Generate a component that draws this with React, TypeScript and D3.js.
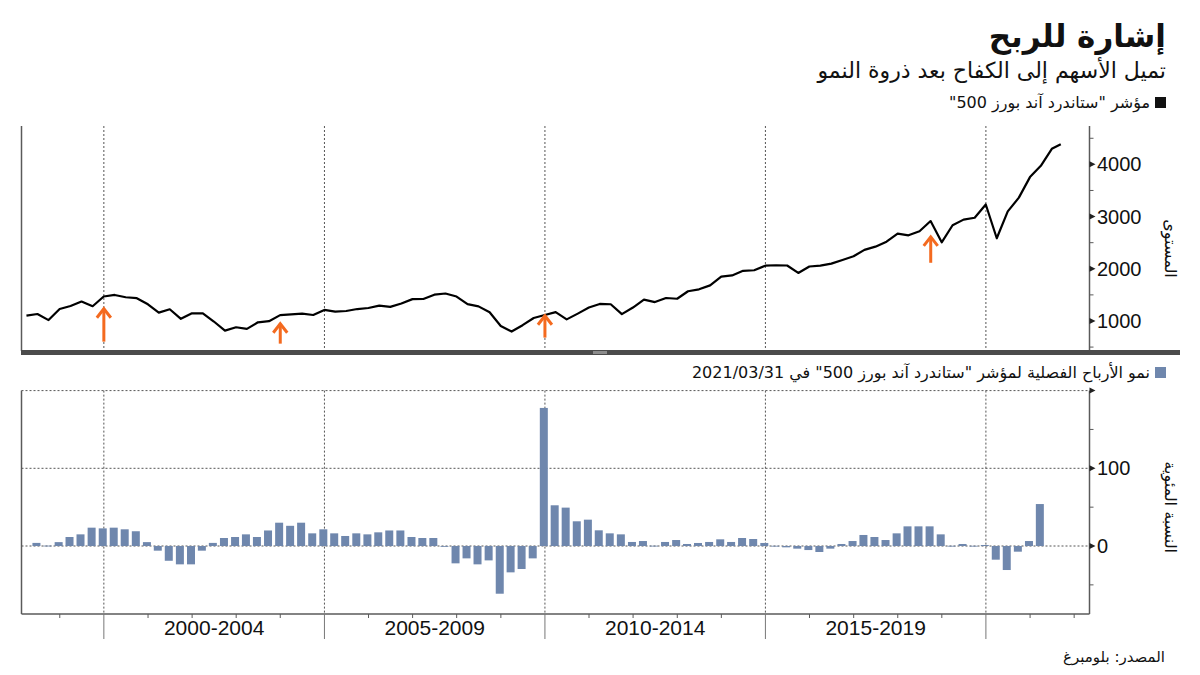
import React from "react";
import * as d3 from "d3";

// ---------- DATA ----------
// S&P 500 quarter-end level, first value = Q1 1998
const spxStartYear = 1998;
const spxStartQuarter = 1;
const spxValues = [
  1101.75, 1133.84, 1017.01, 1229.23,
  1286.37, 1372.71, 1282.71, 1469.25,
  1498.58, 1454.6, 1436.51, 1320.28,
  1160.33, 1224.42, 1040.94, 1148.08,
  1147.39, 989.82, 815.28, 879.82,
  848.18, 974.5, 995.97, 1111.92,
  1126.21, 1140.84, 1114.58, 1211.92,
  1180.59, 1191.33, 1228.81, 1248.29,
  1294.83, 1270.2, 1335.85, 1418.3,
  1420.86, 1503.35, 1526.75, 1468.36,
  1322.7, 1280.0, 1166.36, 903.25,
  797.87, 919.32, 1057.08, 1115.1,
  1169.43, 1030.71, 1141.2, 1257.64,
  1325.83, 1320.64, 1131.42, 1257.6,
  1408.47, 1362.16, 1440.67, 1426.19,
  1569.19, 1606.28, 1681.55, 1848.36,
  1872.34, 1960.23, 1972.29, 2058.9,
  2067.89, 2063.11, 1920.03, 2043.94,
  2059.74, 2098.86, 2168.27, 2238.83,
  2362.72, 2423.41, 2519.36, 2673.61,
  2640.87, 2718.37, 2913.98, 2506.85,
  2834.4, 2941.76, 2976.74, 3230.78,
  2584.59, 3100.29, 3363.0, 3756.07,
  3972.89, 4297.5,
];
const spxLastDate = "2021-09-12";
const spxLastValue = 4385;

// Quarterly EPS growth (%), first value = Q2 1998, last = Q1 2021
const growthStartYear = 1998;
const growthStartQuarter = 2;
const growthValues = [
  4, 0.5, 5, 11.6, 15, 23.6, 22.7, 23.6, 21.5, 19,
  5, -6, -19, -23.6, -23.6, -6, 4, 10.3, 11.6, 15,
  11.6, 20, 30, 26, 30, 16.3, 21.5, 16.3, 12.9, 16.3,
  15, 17.6, 20, 20, 11.6, 10.3, 10.3, -0.5, -22.3, -15.9,
  -23.6, -18.5, -61.4, -33.9, -29.6, -15.9, 177.7, 52.4, 49.4, 31.8,
  33.9, 20.2, 16.3, 15, 5.2, 6.4, 0.4, 5.2, 7.7, 2.6,
  3.9, 5.2, 8.6, 5.2, 10.3, 9, 3.9, 0.3, -1.7, -3.4,
  -5.2, -7.7, -3.4, 2.6, 6.4, 14.2, 11.6, 7.7, 16.3, 25.3,
  25.3, 25.3, 15, 0.3, 2.6, 0.3, 1.3, -17.6, -30.9, -7.3,
  6.4, 54,
];

// Arrows under the index line
const arrowDates = ["2000-01-01", "2004-01-01", "2010-01-01", "2018-10-01"];
const arrowTipValues = [1254, 967, 1120, 2631];
const arrowTailValues = [604, 566, 681, 2115];

// Axes
const xDomain = ["1998-02-18", "2022-05-08"];
const spxDomain = [425, 4735];
const growthDomain = [-87.5, 200];
const spxTicks = [1000, 2000, 3000, 4000];
const spxMinorTicks = [500, 1500, 2500, 3500, 4500];
const growthTicks = [0, 100, 200];
const growthTickLabels = ["0", "100", ""];
const growthMinorTicks = [-50, 50, 150];
const periodStartYears = [2000, 2005, 2010, 2015, 2020];
const periodLabels = ["2000-2004", "2005-2009", "2010-2014", "2015-2019"];
const yearTicks = d3.range(1999, 2023);

// Text
const titleText = "إشارة للربح";
const subtitleText = "تميل الأسهم إلى الكفاح بعد ذروة النمو";
const legend1Text = 'مؤشر "ستاندرد آند بورز 500"';
const legend2Text = 'نمو الأرباح الفصلية لمؤشر "ستاندرد آند بورز 500" في 2021/03/31';
const yTitle1 = "المستوى";
const yTitle2 = "النسبة المئوية";
const sourceText = "المصدر: بلومبرغ";

// ---------- HELPERS ----------
const quarterEnd = (year: number, q: number) => new Date(year, q * 3, 0);
const seriesDates = (startYear: number, startQ: number, n: number) =>
  d3.range(n).map((i) => {
    const k = startQ - 1 + i;
    return quarterEnd(startYear + Math.floor(k / 4), (k % 4) + 1);
  });
const parse = d3.timeParse("%Y-%m-%d");

const AR = "'DejaVu Sans', sans-serif";
const NUM = "'Liberation Sans', Arial, sans-serif";
const BAR = "#6f87ad";
const ORANGE = "#f46a1f";
const AXIS = "#5a5a5a";
const GRID = "#555";

export default function App() {
  const L = 21.5;
  const R = 1089.5;
  const top1 = 126, bot1 = 351;
  const top2 = 390.6, bot2 = 614;

  const x = d3.scaleTime().domain(xDomain.map((d) => parse(d) as Date)).range([L, R]);
  const y1 = d3.scaleLinear().domain(spxDomain).range([bot1, top1]);
  const y2 = d3.scaleLinear().domain(growthDomain).range([bot2, top2]);

  const spxDates = seriesDates(spxStartYear, spxStartQuarter, spxValues.length);
  const spxPoints: [Date, number][] = spxValues.map((v, i) => [spxDates[i], v]);
  spxPoints.push([parse(spxLastDate) as Date, spxLastValue]);
  const line = d3
    .line<[Date, number]>()
    .x((d) => x(d[0]))
    .y((d) => y1(d[1]));

  const gDates = seriesDates(growthStartYear, growthStartQuarter, growthValues.length);
  const barW = 8;

  const yearX = (yr: number) => x(new Date(yr, 0, 1));

  const triangle = (yy: number) => `M${R},${yy - 3} L${R + 6},${yy} L${R},${yy + 3} Z`;

  return (
    <svg
      width={1200}
      height={675}
      viewBox="0 0 1200 675"
      style={{ position: "absolute", left: 0, top: 0, background: "#fff" }}
    >
      <rect x={0} y={0} width={1200} height={675} fill="#fff" />

      {/* Titles */}
      <text x={1166} y={47} fontFamily={AR} fontSize={31} fontWeight="bold" fill="#111" direction="rtl" textAnchor="start">
        {titleText}
      </text>
      <text x={1166} y={78} fontFamily={AR} fontSize={22} fill="#111" direction="rtl" textAnchor="start">
        {subtitleText}
      </text>
      <rect x={1155} y={97} width={11} height={11} fill="#111" />
      <text x={1150} y={108} fontFamily={AR} fontSize={16} fill="#111" direction="rtl" textAnchor="start">
        {legend1Text}
      </text>

      {/* ---------- Top panel ---------- */}
      {periodStartYears.map((yr) => (
        <line key={"vg1" + yr} x1={yearX(yr)} x2={yearX(yr)} y1={top1} y2={bot1} stroke={GRID} strokeWidth={1} strokeDasharray="2,2" />
      ))}
      <line x1={L} x2={L} y1={top1} y2={bot1} stroke={AXIS} strokeWidth={1.5} />
      <line x1={R} x2={R} y1={top1} y2={bot1} stroke={AXIS} strokeWidth={1.5} />
      {spxTicks.map((t) => (
        <g key={"t1" + t}>
          <path d={triangle(y1(t))} fill="#222" />
          <text x={1097} y={y1(t) + 7} fontFamily={NUM} fontSize={20} fill="#111">
            {t}
          </text>
        </g>
      ))}
      {spxMinorTicks.map((t) => (
        <line key={"m1" + t} x1={R} x2={R + 4} y1={y1(t)} y2={y1(t)} stroke={AXIS} strokeWidth={1} />
      ))}
      <text
        transform={`translate(1165, ${(top1 + bot1) / 2 + 10}) rotate(90)`}
        fontFamily={AR}
        fontSize={16}
        fill="#111"
        textAnchor="middle"
      >
        {yTitle1}
      </text>
      <path d={line(spxPoints) || ""} fill="none" stroke="#000" strokeWidth={2.2} strokeLinejoin="round" />

      {arrowDates.map((d, i) => {
        const ax = x(parse(d) as Date);
        const tip = y1(arrowTipValues[i]);
        const tail = y1(arrowTailValues[i]);
        return (
          <g key={"arr" + i} stroke={ORANGE} strokeWidth={3} fill="none">
            <line x1={ax} x2={ax} y1={tail} y2={tip + 1} />
            <path d={`M${ax - 7},${tip + 10} L${ax},${tip + 1} L${ax + 7},${tip + 10}`} strokeLinejoin="miter" />
          </g>
        );
      })}

      {/* separator */}
      <rect x={21} y={350} width={1159} height={5} fill="#4b4b4b" />
      <rect x={593} y={351} width={14} height={3} fill="#8c8c8c" />

      {/* ---------- Bottom panel ---------- */}
      <rect x={1155} y={367} width={11} height={11} fill={BAR} />
      <text x={1150} y={378} fontFamily={AR} fontSize={16} fill="#111" direction="rtl" textAnchor="start">
        {legend2Text}
      </text>

      {growthTicks.map((t) => (
        <line key={"hg" + t} x1={L} x2={R} y1={y2(t)} y2={y2(t)} stroke={GRID} strokeWidth={1} strokeDasharray="2,2" />
      ))}
      {periodStartYears.map((yr) => (
        <line key={"vg2" + yr} x1={yearX(yr)} x2={yearX(yr)} y1={top2} y2={bot2} stroke={GRID} strokeWidth={1} strokeDasharray="2,2" />
      ))}

      {growthValues.map((v, i) => {
        const cx = x(gDates[i]) - 1;
        const y0 = y2(0);
        const yv = y2(v);
        return (
          <rect
            key={"b" + i}
            x={cx - barW / 2}
            y={Math.min(y0, yv)}
            width={barW}
            height={Math.max(Math.abs(y0 - yv), 0.8)}
            fill={BAR}
          />
        );
      })}

      <line x1={L} x2={L} y1={top2} y2={bot2} stroke={AXIS} strokeWidth={1.5} />
      <line x1={R} x2={R} y1={top2} y2={bot2} stroke={AXIS} strokeWidth={1.5} />
      <line x1={L} x2={R} y1={bot2} y2={bot2} stroke={AXIS} strokeWidth={1.5} />
      {growthTicks.map((t, i) => (
        <g key={"t2" + t}>
          <path d={triangle(y2(t))} fill="#222" />
          <text x={1097} y={y2(t) + 7} fontFamily={NUM} fontSize={20} fill="#111">
            {growthTickLabels[i]}
          </text>
        </g>
      ))}
      {growthMinorTicks.map((t) => (
        <line key={"m2" + t} x1={R} x2={R + 4} y1={y2(t)} y2={y2(t)} stroke={AXIS} strokeWidth={1} />
      ))}
      <text
        transform={`translate(1165, ${y2(50)}) rotate(90)`}
        fontFamily={AR}
        fontSize={16}
        fill="#111"
        textAnchor="middle"
      >
        {yTitle2}
      </text>

      {/* x axis ticks */}
      {yearTicks.map((yr) => {
        const major = periodStartYears.includes(yr);
        return (
          <line
            key={"yt" + yr}
            x1={yearX(yr)}
            x2={yearX(yr)}
            y1={bot2}
            y2={major ? 639 : bot2 + 4}
            stroke={major ? "#777" : AXIS}
            strokeWidth={1}
          />
        );
      })}
      {periodLabels.map((lab, i) => (
        <text
          key={lab}
          x={(yearX(periodStartYears[i]) + yearX(periodStartYears[i + 1])) / 2}
          y={635}
          fontFamily={NUM}
          fontSize={21}
          fill="#111"
          textAnchor="middle"
        >
          {lab}
        </text>
      ))}

      <text x={1165} y={662} fontFamily={AR} fontSize={15} fill="#111" direction="rtl" textAnchor="start">
        {sourceText}
      </text>
    </svg>
  );
}
